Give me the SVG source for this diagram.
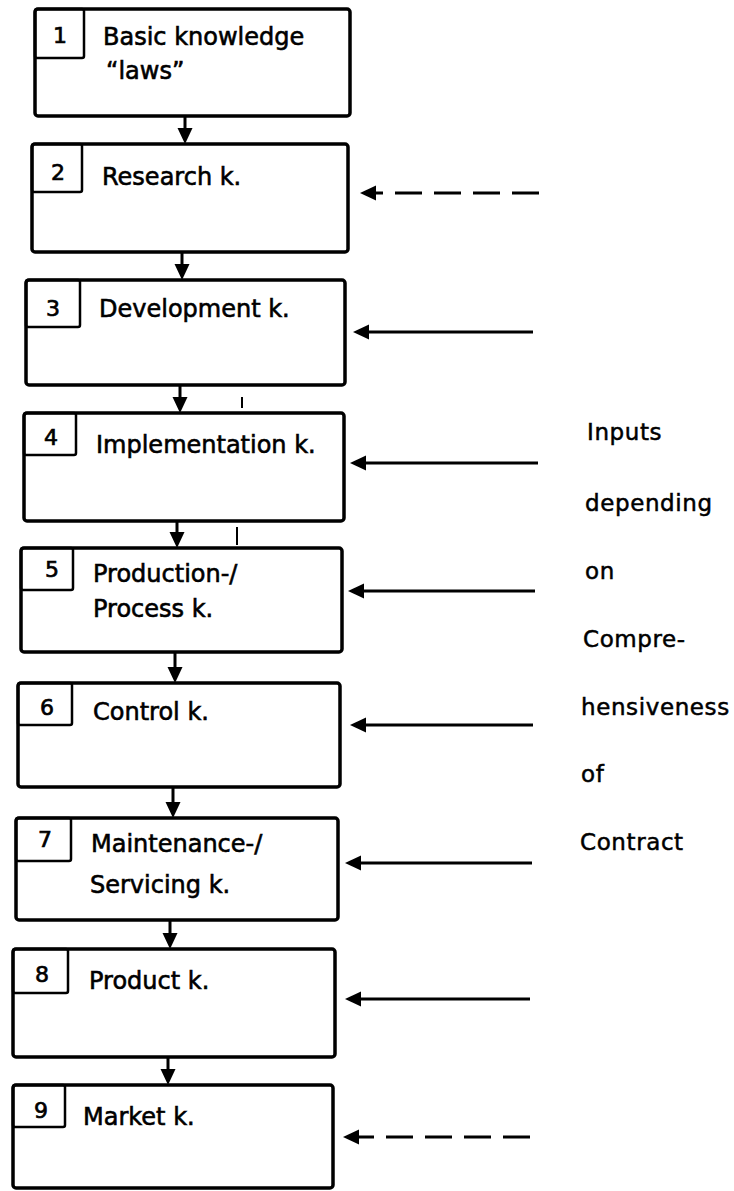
<svg xmlns="http://www.w3.org/2000/svg" width="734" height="1191" viewBox="0 0 734 1191">
<defs>
<marker id="ah" markerUnits="userSpaceOnUse" markerWidth="18" markerHeight="16" refX="6" refY="8" orient="auto" overflow="visible">
<path d="M0,0.5 L16,8 L0,15.5 z" fill="#000"/>
</marker>
</defs>
<style>
.box{fill:#fff;stroke:#000;stroke-width:3.5;}
.num{fill:none;stroke:#000;stroke-width:2.5;}
.t{font-family:"DejaVu Sans","Liberation Sans",sans-serif;font-size:24px;fill:#000;stroke:#000;stroke-width:0.6;}
.n{font-family:"DejaVu Sans","Liberation Sans",sans-serif;font-size:22px;fill:#000;stroke:#000;stroke-width:0.7;text-anchor:middle;}
.r{font-family:"DejaVu Sans","Liberation Sans",sans-serif;font-size:23px;fill:#000;stroke:#000;stroke-width:0.5;letter-spacing:0.6px;}
.c{fill:none;stroke:#000;stroke-width:3;marker-end:url(#ah);}
.d{stroke-dasharray:27 12;}
.tick{stroke:#000;stroke-width:2;}
</style>
<rect width="734" height="1191" fill="#fff"/>
<g id="connectors">
<line class="c" x1="185" y1="116" x2="185" y2="134"/>
<line class="c" x1="182" y1="252" x2="182" y2="270"/>
<line class="c" x1="180" y1="385" x2="180" y2="403"/>
<line class="c" x1="177" y1="521" x2="177" y2="538"/>
<line class="c" x1="175" y1="652" x2="175" y2="673"/>
<line class="c" x1="173" y1="787" x2="173" y2="808"/>
<line class="c" x1="170" y1="920" x2="170" y2="939"/>
<line class="c" x1="168" y1="1057" x2="168" y2="1075"/>
<line class="tick" x1="242" y1="397" x2="242" y2="408"/>
<line class="tick" x1="237" y1="527" x2="237" y2="545"/>
<line class="c d" x1="539" y1="193" x2="370" y2="193"/>
<line class="c" x1="533" y1="332" x2="363" y2="332"/>
<line class="c" x1="538" y1="463" x2="360" y2="463"/>
<line class="c" x1="535" y1="591" x2="358" y2="591"/>
<line class="c" x1="533" y1="725" x2="360" y2="725"/>
<line class="c" x1="532" y1="863" x2="355" y2="863"/>
<line class="c" x1="530" y1="999" x2="355" y2="999"/>
<line class="c d" x1="530" y1="1137" x2="353" y2="1137"/>
</g>
<g id="node1">
<rect class="box" x="35" y="9" width="315" height="107" rx="3"/>
<rect class="num" x="35" y="9" width="49" height="49" rx="2"/>
<text class="n" x="60" y="43">1</text>
<text class="t" x="103" y="45">Basic knowledge</text>
<text class="t" x="106" y="79">“laws”</text>
</g>
<g id="node2">
<rect class="box" x="32" y="144" width="316" height="108" rx="3"/>
<rect class="num" x="32" y="144" width="50" height="48" rx="2"/>
<text class="n" x="58" y="180">2</text>
<text class="t" x="102" y="185">Research k.</text>
</g>
<g id="node3">
<rect class="box" x="26" y="280" width="319" height="105" rx="3"/>
<rect class="num" x="26" y="280" width="54" height="47" rx="2"/>
<text class="n" x="53" y="316">3</text>
<text class="t" x="99" y="317">Development k.</text>
</g>
<g id="node4">
<rect class="box" x="24" y="413" width="320" height="108" rx="3"/>
<rect class="num" x="24" y="413" width="52" height="42" rx="2"/>
<text class="n" x="51" y="445">4</text>
<text class="t" x="96" y="453">Implementation k.</text>
</g>
<g id="node5">
<rect class="box" x="21" y="548" width="321" height="104" rx="3"/>
<rect class="num" x="21" y="548" width="52" height="42" rx="2"/>
<text class="n" x="52" y="577">5</text>
<text class="t" x="93" y="582">Production-/</text>
<text class="t" x="93" y="617">Process k.</text>
</g>
<g id="node6">
<rect class="box" x="18" y="683" width="322" height="104" rx="3"/>
<rect class="num" x="18" y="683" width="54" height="42" rx="2"/>
<text class="n" x="47" y="715">6</text>
<text class="t" x="93" y="720">Control k.</text>
</g>
<g id="node7">
<rect class="box" x="16" y="818" width="322" height="102" rx="3"/>
<rect class="num" x="16" y="818" width="55" height="43" rx="2"/>
<text class="n" x="45" y="847">7</text>
<text class="t" x="91" y="852">Maintenance-/</text>
<text class="t" x="90" y="893">Servicing k.</text>
</g>
<g id="node8">
<rect class="box" x="13" y="949" width="322" height="108" rx="3"/>
<rect class="num" x="13" y="949" width="55" height="44" rx="2"/>
<text class="n" x="42" y="982">8</text>
<text class="t" x="89" y="989">Product k.</text>
</g>
<g id="node9">
<rect class="box" x="13" y="1085" width="320" height="103" rx="3"/>
<rect class="num" x="13" y="1085" width="52" height="42" rx="2"/>
<text class="n" x="41" y="1118">9</text>
<text class="t" x="83" y="1125">Market k.</text>
</g>
<g id="inputs-label">
<text class="r" x="587" y="440">Inputs</text>
<text class="r" x="585" y="511">depending</text>
<text class="r" x="585" y="579">on</text>
<text class="r" x="583" y="647">Compre-</text>
<text class="r" x="581" y="715">hensiveness</text>
<text class="r" x="581" y="782">of</text>
<text class="r" x="580" y="850">Contract</text>
</g>
</svg>
